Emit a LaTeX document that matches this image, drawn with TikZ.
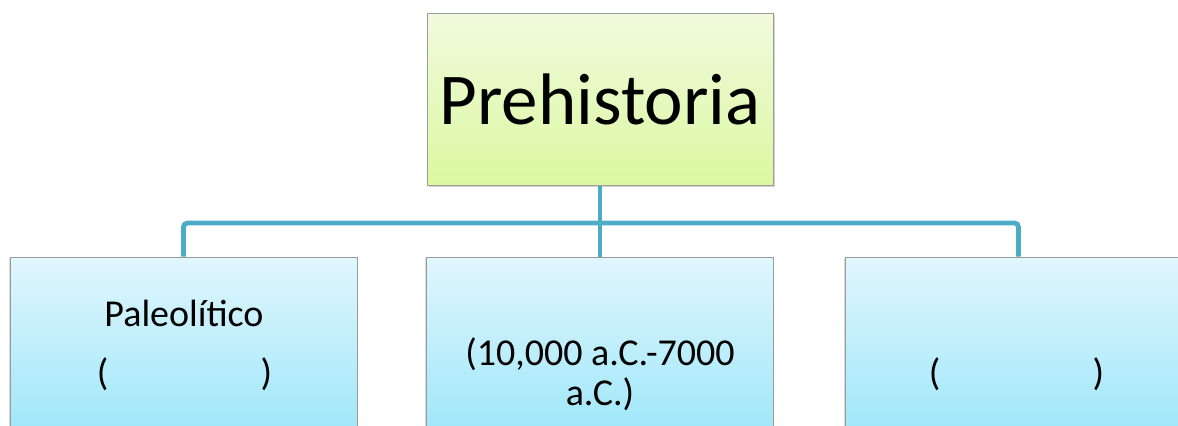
\documentclass[tikz,border=0pt]{standalone}
\usepackage{fontspec}
\setmainfont{Carlito}
\usetikzlibrary{shadows}
\definecolor{conn}{RGB}{75,172,198}
\definecolor{boxgray}{RGB}{155,155,155}
\definecolor{grtop}{RGB}{241,250,222}
\definecolor{grbot}{RGB}{219,248,160}
\definecolor{bltop}{RGB}{224,246,253}
\definecolor{blbot}{RGB}{150,229,249}
\begin{document}
\begin{tikzpicture}[x=0.5pt,y=-0.5pt,
  topbox/.style={draw=boxgray, line width=0.5pt, top color=grtop, bottom color=grbot,
    minimum width=173pt, minimum height=86pt, inner sep=0pt,
    drop shadow={shadow xshift=1pt,shadow yshift=-1.2pt,opacity=0.35}},
  subbox/.style={draw=boxgray, line width=0.5pt, top color=bltop, bottom color=blbot,
    minimum width=173.5pt, minimum height=100pt, inner sep=0pt,
    drop shadow={shadow xshift=-0.6pt,shadow yshift=-0.6pt,opacity=0.3}},
  lbl/.style={inner sep=0pt, font=\fontsize{19}{20}\selectfont, text=black, align=center},
  connector/.style={draw=conn, line width=2.4pt, rounded corners=2pt}]
\useasboundingbox (0,0) rectangle (1178,425);
\clip (0,0) rectangle (1178,425);
% boxes
\node[topbox, font=\fontsize{36.5}{40}\selectfont] (pre) at (600,99) {Prehistoria};
\node[subbox] (left) at (183.5,357) {};
\node[subbox] (mid) at (600,357) {};
\node[subbox] (right) at (1018.5,357) {};
% connectors
\coordinate (j) at (600,223);
\draw[connector] (pre.south) -- (j);
\draw[connector] (left.north) |- (j);
\draw[connector] (right.north) |- (j);
\draw[connector] (j) -- (mid.north);
% texts
\node[lbl, anchor=base] (paleo) at (184,326) {Paleolítico};
\node[lbl, anchor=base] (paleodate) at (184.5,385) {(\hspace{76pt})};
\node[lbl] (middate) at (600,374) {(10,000 a.C.-7000\\a.C.)};
\node[lbl, anchor=base] (rightdate) at (1016.5,385) {(\hspace{76pt})};
\end{tikzpicture}
\end{document}
